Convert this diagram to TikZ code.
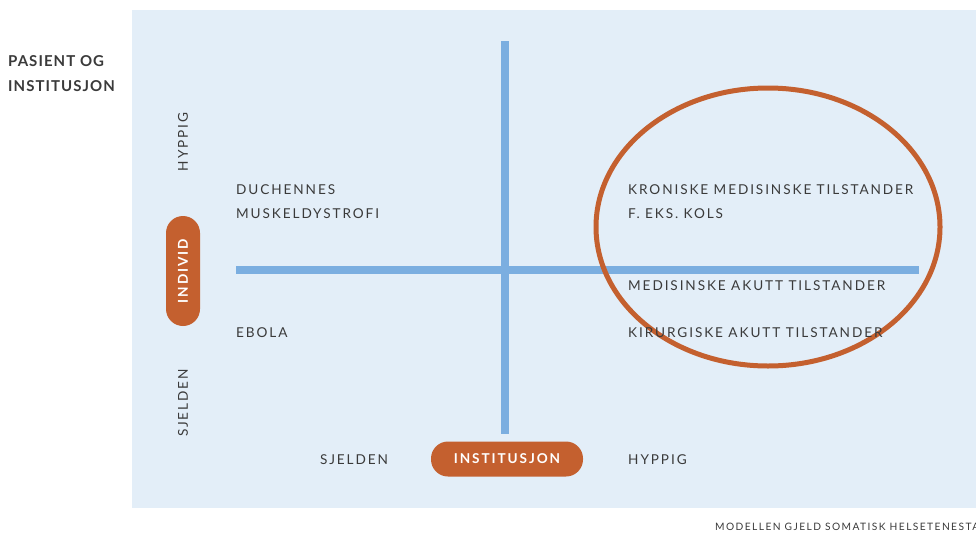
\documentclass[tikz,border=0pt]{standalone}
\usepackage{fontspec}
\usetikzlibrary{shapes.geometric}
\setmainfont{Lato}[LetterSpace=14]
\newfontfamily\titlefont{Lato}[LetterSpace=7]
\definecolor{bgblue}{HTML}{E3EEF8}
\definecolor{axisblue}{HTML}{7BAEE0}
\definecolor{rust}{HTML}{C4602F}
\definecolor{txt}{HTML}{3A3A3A}
\begin{document}
\begin{tikzpicture}[x=1pt,y=-1pt,
  lbl/.style={anchor=west,inner sep=0pt,text=txt,font=\fontsize{13.6}{15}\selectfont},
  vlbl/.style={inner sep=0pt,text=txt,font=\fontsize{13.6}{15}\selectfont,rotate=90},
  pill/.style={fill=rust,rounded corners=17pt,text=white,inner sep=0pt,font=\fontsize{13.6}{15}\selectfont\bfseries},
  axis/.style={draw=axisblue,line width=7.5pt}]
\useasboundingbox (0,0) rectangle (976,533);
\fill[bgblue] (132,10) rectangle (976,508);
% axes
\coordinate (vt) at (505,41);
\coordinate (vb) at (505,434);
\coordinate (hl) at (236,270);
\coordinate (hr) at (919,270);
\draw[axis] (vt) -- (vb);
\draw[axis] (hl) -- (hr);
% ellipse
\node[draw=rust,line width=5pt,ellipse,minimum width=344pt,minimum height=278pt,inner sep=0pt] (ell) at (768,227) {};
% title
\node[anchor=west,inner sep=0pt,text=txt,align=left,font=\titlefont\fontsize{15}{25}\selectfont\bfseries] (title) at (8,74) {PASIENT OG\\INSTITUSJON};
% vertical labels
\node[vlbl] (hyv) at (183,142) {HYPPIG};
\node[vlbl] (sjv) at (183,403) {SJELDEN};
\node[pill,rotate=90,minimum width=110pt,minimum height=34pt] (indiv) at (183,271) {INDIVID};
% horizontal labels
\node[lbl,anchor=center] (sjh) at (354,460) {SJELDEN};
\node[lbl] (hyh) at (628,460) {HYPPIG};
\node[pill,minimum width=152pt,minimum height=35pt] (inst) at (507,459) {INSTITUSJON};
% quadrant texts
\node[lbl] (duch) at (236,190) {DUCHENNES};
\node[lbl] (musk) at (236,214) {MUSKELDYSTROFI};
\node[lbl] (ebola) at (236,333) {EBOLA};
\node[lbl] (kron) at (628,190) {KRONISKE MEDISINSKE TILSTANDER};
\node[lbl] (feks) at (628,214) {F. EKS. KOLS};
\node[lbl] (medak) at (628,286) {MEDISINSKE AKUTT TILSTANDER};
\node[lbl] (kirak) at (628,333) {KIRURGISKE AKUTT TILSTANDER};
% footnote
\node[anchor=west,inner sep=0pt,text=txt,font=\fontsize{10.2}{12}\selectfont] (foot) at (715,527) {MODELLEN GJELD SOMATISK HELSETENESTA};
\end{tikzpicture}
\end{document}
